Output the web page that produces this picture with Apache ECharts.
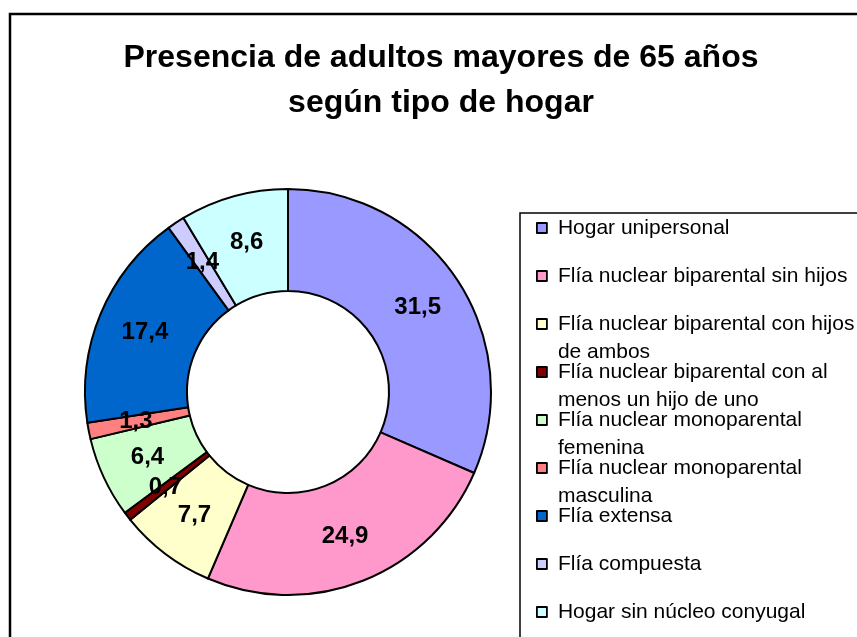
<!DOCTYPE html>
<html>
<head>
<meta charset="utf-8">
<script src="https://cdn.jsdelivr.net/npm/echarts@6/dist/echarts.min.js"></script>
<style>
  html, body { margin: 0; padding: 0; background: #fff; }
  #chart { width: 857px; height: 637px; }
</style>
</head>
<body>
<div id="chart"></div>
<script>
// categorías (texto de leyenda, con corte de línea como en el original)
var categorias = [
    'Hogar unipersonal',
    'Flía nuclear biparental sin hijos',
    'Flía nuclear biparental con hijos\nde ambos',
    'Flía nuclear biparental con al\nmenos un hijo de uno',
    'Flía nuclear monoparental\nfemenina',
    'Flía nuclear monoparental\nmasculina',
    'Flía extensa',
    'Flía compuesta',
    'Hogar sin núcleo conyugal'
];
// porcentajes
var valores = [31.5, 24.9, 7.7, 0.7, 6.4, 1.3, 17.4, 1.4, 8.6];
var colores = ['#9999FF', '#FF99CC', '#FFFFCC', '#800000', '#CCFFCC', '#FF8080', '#0066CC', '#CCCCFF', '#CCFFFF'];

var myChart = echarts.init(document.getElementById('chart'));

var datos = [];
for (var i = 0; i < categorias.length; i++) {
    datos.push({
        name: categorias[i].replace('\n', ' '),
        value: valores[i],
        itemStyle: { color: colores[i] }
    });
}

// una leyenda por item, para que queden espaciadas igual que en el original
var leyendas = [];
for (var j = 0; j < categorias.length; j++) {
    var dosLineas = categorias[j].indexOf('\n') >= 0;
    var centroIcono = 228 + j * 48;
    leyendas.push({
        data: [datos[j].name],
        orient: 'vertical',
        left: 536,
        top: centroIcono - (dosLineas ? 42 : 14),
        padding: 0,
        icon: 'rect',
        itemWidth: 10,
        itemHeight: 10,
        selectedMode: false,
        itemStyle: { borderColor: '#000', borderWidth: 1.8 },
        formatter: (function (txt, dos) {
            return function () { return dos ? '\n' + txt : txt; };
        })(categorias[j], dosLineas),
        textStyle: {
            fontFamily: 'Liberation Sans',
            fontSize: 21,
            lineHeight: 28,
            color: '#000',
            padding: [0, 0, 0, 6]
        }
    });
}

var option = {
    animation: false,
    backgroundColor: '#fff',
    title: {
        text: 'Presencia de adultos mayores de 65 años\nsegún tipo de hogar',
        left: 436,
        top: 31,
        textAlign: 'center',
        textStyle: {
            fontFamily: 'Liberation Sans',
            fontSize: 32,
            fontWeight: 'bold',
            lineHeight: 45,
            color: '#000'
        }
    },
    legend: leyendas,
    graphic: [
        {
            type: 'rect',
            shape: { x: 10, y: 14, width: 870, height: 650 },
            style: { fill: 'none', stroke: '#000', lineWidth: 2.5 }
        },
        {
            type: 'rect',
            shape: { x: 520, y: 213, width: 360, height: 440 },
            style: { fill: 'none', stroke: '#000', lineWidth: 1.5 }
        }
    ],
    series: [{
        type: 'pie',
        center: [288, 392],
        radius: [101, 203],
        startAngle: 90,
        clockwise: true,
        avoidLabelOverlap: false,
        silent: true,
        itemStyle: { borderColor: '#000', borderWidth: 2 },
        label: {
            show: true,
            position: 'inside',
            color: '#000',
            fontFamily: 'Liberation Sans',
            fontSize: 24,
            fontWeight: 'bold',
            formatter: function (p) {
                return String(p.value).replace('.', ',');
            }
        },
        labelLine: { show: false },
        data: datos
    }]
};

myChart.setOption(option);
</script>
</body>
</html>
